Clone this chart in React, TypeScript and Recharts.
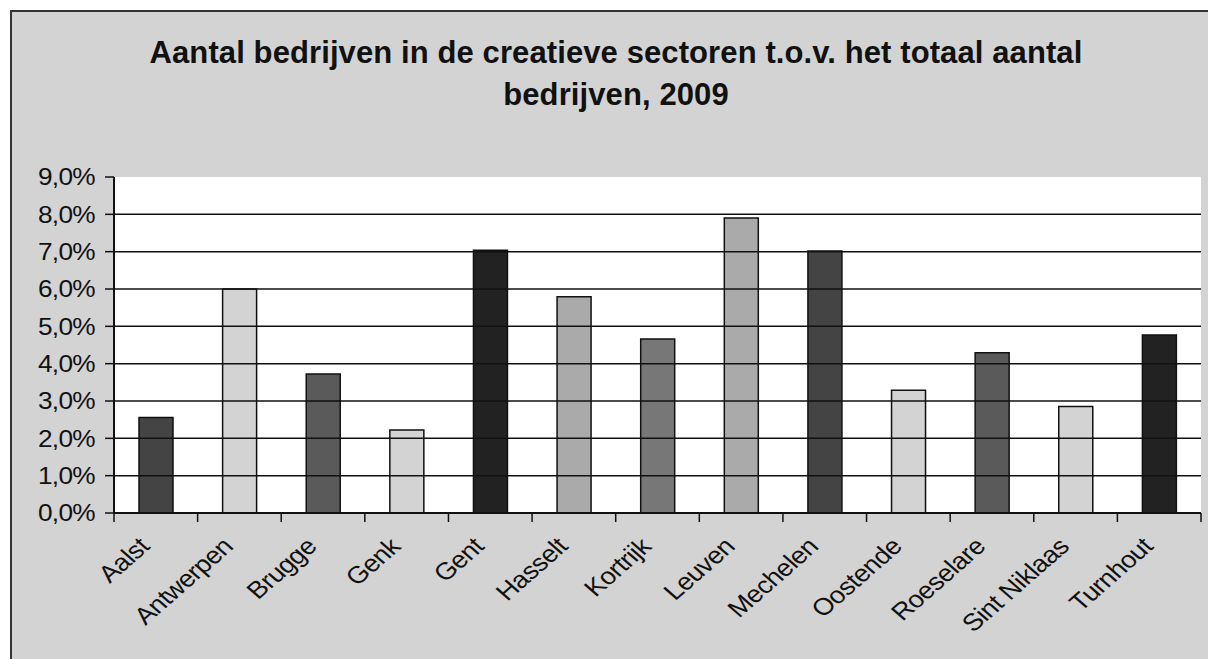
import {
  BarChart,
  Bar,
  XAxis,
  YAxis,
  Cell,
  CartesianGrid,
  ReferenceLine,
} from 'recharts';

const cities = [
  'Aalst',
  'Antwerpen',
  'Brugge',
  'Genk',
  'Gent',
  'Hasselt',
  'Kortrijk',
  'Leuven',
  'Mechelen',
  'Oostende',
  'Roeselare',
  'Sint Niklaas',
  'Turnhout',
];
const shares = [
  0.0256, 0.06, 0.0372, 0.0222, 0.0704, 0.0579, 0.0466, 0.079, 0.0702, 0.0329,
  0.0429, 0.0285, 0.0477,
];
const barColors = [
  '#444444', '#d3d3d3', '#5a5a5a', '#d3d3d3', '#222222', '#aaaaaa', '#777777',
  '#aaaaaa', '#444444', '#d3d3d3', '#5a5a5a', '#d3d3d3', '#222222',
];
const yTicks = [0, 0.01, 0.02, 0.03, 0.04, 0.05, 0.06, 0.07, 0.08, 0.09];
const gridLines = [0.01, 0.02, 0.03, 0.04, 0.05, 0.06, 0.07, 0.08];

const data = cities.map((city, i) => ({ city, share: shares[i] }));

const W = 1208;
const H = 659;
const PLOT_LEFT = 114;
const PLOT_RIGHT = 1201;
const PLOT_TOP = 177;
const PLOT_BOTTOM = 513;
const STEP = (PLOT_RIGHT - PLOT_LEFT) / cities.length;

const font = '"Liberation Sans", Arial, sans-serif';
// the original chart is a bit stretched sideways
const STRETCH = 1.14;

const fmt = (v: number) => `${(v * 100).toFixed(1).replace('.', ',')}%`;

const PercentTick = (props: any) => {
  const { y, payload } = props;
  return (
    <text
      transform={`translate(95 ${y}) scale(${STRETCH} 1)`}
      textAnchor="end"
      dy="0.36em"
      fontSize={23}
      fontFamily={font}
      letterSpacing={-0.6}
      fill="#111"
    >
      {fmt(payload.value)}
    </text>
  );
};

const CityTick = (props: any) => {
  const { x, payload, index } = props;
  const y = PLOT_BOTTOM;
  const last = index === cities.length - 1;
  return (
    <g>
      <line x1={x - STEP / 2} y1={y} x2={x - STEP / 2} y2={y + 9} stroke="#111" strokeWidth={1.5} />
      {last && (
        <line x1={x + STEP / 2} y1={y} x2={x + STEP / 2} y2={y + 9} stroke="#111" strokeWidth={1.5} />
      )}
      <text
        transform={`translate(${x - 5} ${y + 35}) scale(${STRETCH} 1) rotate(-45)`}
        textAnchor="end"
        fontSize={24}
        fontFamily={font}
        letterSpacing={-0.5}
        fill="#111"
      >
        {payload.value}
      </text>
    </g>
  );
};

export default function App() {
  return (
    <div style={{ position: 'fixed', left: 0, top: 0, right: 0, bottom: 0, background: '#d3d3d3', overflow: 'hidden' }}>
      <style>{'html,body{margin:0;overflow:hidden;background:#d3d3d3}'}</style>
      <div style={{ position: 'absolute', left: 0, top: 0, right: 0, height: 10, background: '#fff' }} />
      <div style={{ position: 'absolute', left: 0, top: 0, bottom: 0, width: 10, background: '#fff' }} />
      <div style={{ position: 'absolute', left: 10, top: 10, right: 0, height: 2, background: '#333' }} />
      <div style={{ position: 'absolute', left: 10, top: 10, bottom: 0, width: 2, background: '#333' }} />
      <div
        style={{
          position: 'absolute',
          left: 10,
          top: 32,
          width: 1212,
          textAlign: 'center',
          fontFamily: font,
          fontWeight: 'bold',
          fontSize: 31,
          lineHeight: '42px',
          letterSpacing: 0.1,
          color: '#111',
        }}
      >
        Aantal bedrijven in de creatieve sectoren t.o.v. het totaal aantal
        <br />
        bedrijven, 2009
      </div>
      <div style={{ position: 'absolute', left: 0, top: 0 }}>
        <BarChart
          width={W}
          height={H}
          data={data}
          margin={{ top: PLOT_TOP, left: PLOT_LEFT - 60, right: W - PLOT_RIGHT, bottom: H - PLOT_BOTTOM - 60 }}
          barSize={34}
        >
          <CartesianGrid fill="#fff" horizontal={false} vertical={false} />
          {gridLines.map((g) => (
            <ReferenceLine key={g} y={g} stroke="#111" strokeWidth={1.5} />
          ))}
          <XAxis
            dataKey="city"
            height={60}
            interval={0}
            tickLine={false}
            axisLine={{ stroke: '#111', strokeWidth: 2 }}
            tick={<CityTick />}
          />
          <YAxis
            width={60}
            domain={[0, 0.09]}
            ticks={yTicks}
            interval={0}
            tickSize={9}
            axisLine={{ stroke: '#111', strokeWidth: 2 }}
            tickLine={{ stroke: '#111', strokeWidth: 1.5 }}
            tick={<PercentTick />}
          />
          <Bar dataKey="share" stroke="#111" strokeWidth={1.5} isAnimationActive={false}>
            {data.map((d, i) => (
              <Cell key={d.city} fill={barColors[i]} />
            ))}
          </Bar>
        </BarChart>
      </div>
    </div>
  );
}
